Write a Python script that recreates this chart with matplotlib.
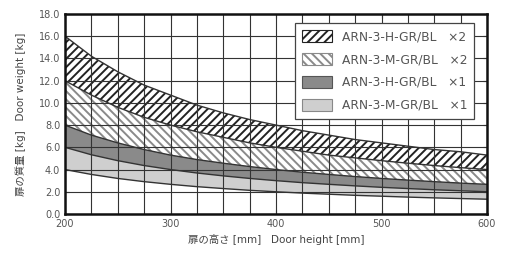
import matplotlib
matplotlib.use("Agg")
import matplotlib.pyplot as plt
from matplotlib.patches import Patch
from matplotlib.ticker import MultipleLocator

plt.rcParams['font.family'] = ['DejaVu Sans', 'Noto Sans CJK JP']
plt.rcParams['hatch.linewidth'] = 1.4

# Door height [mm]
heights = [200, 225, 250, 275, 300, 325, 350, 375, 400, 425, 450, 475, 500, 525, 550, 575, 600]
# Boundary curves (door weight, kg)
h_x2_top = [16.0, 14.2, 12.8, 11.6, 10.7, 9.8, 9.1, 8.5, 8.0, 7.5, 7.1, 6.7, 6.4, 6.1, 5.8, 5.6, 5.3]
h_x2_bot = [12.0, 10.7, 9.6, 8.7, 8.0, 7.4, 6.9, 6.4, 6.0, 5.65, 5.3, 5.05, 4.8, 4.57, 4.36, 4.17, 4.0]
m_x2_bot = [8.0, 7.1, 6.4, 5.8, 5.3, 4.9, 4.57, 4.27, 4.0, 3.76, 3.56, 3.37, 3.2, 3.05, 2.91, 2.78, 2.67]
h_x1_bot = [6.0, 5.33, 4.8, 4.36, 4.0, 3.69, 3.43, 3.2, 3.0, 2.82, 2.67, 2.53, 2.4, 2.29, 2.18, 2.09, 2.0]
m_x1_bot = [4.0, 3.56, 3.2, 2.91, 2.67, 2.46, 2.29, 2.13, 2.0, 1.88, 1.78, 1.68, 1.6, 1.52, 1.45, 1.39, 1.33]

series_labels = ['ARN-3-H-GR/BL   ×2', 'ARN-3-M-GR/BL   ×2', 'ARN-3-H-GR/BL   ×1', 'ARN-3-M-GR/BL   ×1']
x_ticks = [200, 300, 400, 500, 600]
y_ticks = [0, 2, 4, 6, 8, 10, 12, 14, 16, 18]

fig = plt.figure(figsize=(5.05, 2.54), dpi=100)
ax = fig.add_axes([0.1287, 0.1575, 0.8357, 0.7875])

# bands
ax.fill_between(heights, m_x1_bot, h_x1_bot, facecolor='#cfcfcf', edgecolor='none', zorder=2)
ax.fill_between(heights, h_x1_bot, m_x2_bot, facecolor='#8a8a8a', edgecolor='none', zorder=2)
ax.fill_between(heights, m_x2_bot, h_x2_bot, facecolor='white', edgecolor='#8a8a8a',
                hatch='\\\\\\\\', linewidth=0, zorder=2)
ax.fill_between(heights, h_x2_bot, h_x2_top, facecolor='white', edgecolor='#222222',
                hatch='////', linewidth=0, zorder=2)

for curve in [h_x2_top, h_x2_bot, m_x2_bot, h_x1_bot, m_x1_bot]:
    ax.plot(heights, curve, color='#333333', lw=1.0, zorder=3)

ax.set_xlim(200, 600)
ax.set_ylim(0, 18)
ax.set_xticks(x_ticks)
ax.set_yticks(y_ticks)
ax.set_yticklabels([f'{v:.1f}' for v in y_ticks])
ax.xaxis.set_minor_locator(MultipleLocator(25))
ax.grid(True, which='both', axis='x', color='#333333', lw=0.8, zorder=1)
ax.grid(True, which='major', axis='y', color='#333333', lw=0.8, zorder=1)
ax.set_axisbelow(False)
ax.tick_params(axis='both', which='both', direction='in', length=3, labelsize=7,
               labelcolor='#555555', color='#333333', top=True, right=True)
for s in ax.spines.values():
    s.set_linewidth(1.8)
    s.set_color('#111111')
    s.set_zorder(4)

ax.set_xlabel('扉の高さ [mm]   Door height [mm]', fontsize=7.5, color='#444444', labelpad=4)
ax.set_ylabel('扉の質量 [kg]   Door weight [kg]', fontsize=7.5, color='#444444', labelpad=9)

handles = [
    Patch(facecolor='white', edgecolor='#222222', hatch='////', lw=0.8),
    Patch(facecolor='white', edgecolor='#8a8a8a', hatch='\\\\\\\\', lw=0.8),
    Patch(facecolor='#8a8a8a', edgecolor='#555555', lw=0.8),
    Patch(facecolor='#cfcfcf', edgecolor='#888888', lw=0.8),
]
leg = ax.legend(handles, series_labels, loc='upper right', bbox_to_anchor=(0.97, 0.955),
                borderaxespad=0, prop={'size': 8.8},
                frameon=True, fancybox=False, framealpha=1,
                edgecolor='#444444', handlelength=2.4, handleheight=1.15,
                labelspacing=0.78, borderpad=0.6, handletextpad=0.8, labelcolor='#555555')
leg.get_frame().set_linewidth(0.9)
leg.set_zorder(5)

fig.savefig('out.png', dpi=100)
